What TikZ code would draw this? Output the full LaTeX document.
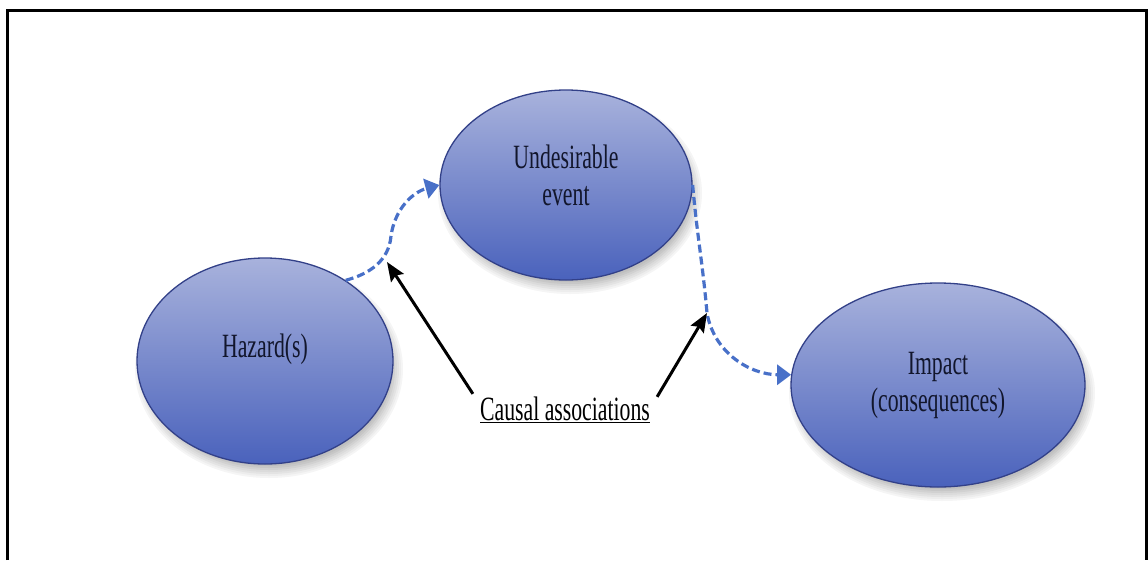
\documentclass[tikz,border=0pt]{standalone}
\usepackage{fontspec}
\setmainfont{Liberation Serif}[FakeStretch=0.64]
\usetikzlibrary{shapes.geometric,arrows.meta}

\definecolor{ellTop}{RGB}{168,178,220}
\definecolor{ellBot}{RGB}{74,98,188}
\definecolor{ellLine}{RGB}{50,64,136}
\definecolor{linkBlue}{RGB}{72,112,200}
\definecolor{inkNavy}{RGB}{18,22,44}

% soft shadow for an ellipse: centre coordinate, x radius, y radius
% (rings of solid grey, from the outer, palest one inwards)
\newcommand\softshade[3]{%
  \foreach \k in {12,10,...,0}{%
    \pgfmathtruncatemacro\shadepct{4+(12-\k)*1.8}%
    \fill[black!\shadepct!white] ([shift={(4,8)}]#1)
      ellipse [x radius=#2+\k-6, y radius=#3+\k-6];}}

\newcommand\up[1]{\raisebox{10pt}[\height][\depth]{#1}}

\begin{document}
\begin{tikzpicture}[x=1pt,y=-1pt,
  bubble/.style={ellipse, draw=ellLine, line width=1.3pt,
    top color=ellTop, bottom color=ellBot, inner sep=0pt,
    align=center, text=inkNavy, font=\fontsize{34}{37}\selectfont},
  link/.style={linkBlue, line width=3.2pt, dash pattern=on 8pt off 4pt,
    -{Triangle[length=14pt,width=20pt]}},
  pointer/.style={black, line width=3pt,
    -{Stealth[length=19pt,width=15pt,inset=3pt]}},
  caption/.style={text=black, font=\fontsize{34}{37}\selectfont, inner sep=4pt}]

\useasboundingbox (0,0) rectangle (1148,560);

% open frame (its bottom edge lies below the page)
\draw[line width=3pt] (7,560) -- (7,10.7) -- (1146.5,10.7) -- (1146.5,560);

% centres of the three stages, with their shadows
\coordinate (hazc) at (265,361);
\coordinate (undc) at (566,185);
\coordinate (impc) at (938,385);
\softshade{hazc}{128}{103}
\softshade{undc}{126}{95}
\softshade{impc}{147}{102}

% the three stages
\node[bubble, minimum width=256pt, minimum height=206pt] (haz) at (hazc)
  {\raisebox{12pt}[\height][\depth]{Hazard(s)}};
\node[bubble, minimum width=252pt, minimum height=190pt] (und) at (undc)
  {\up{Undesirable}\\\up{event}};
\node[bubble, minimum width=294pt, minimum height=204pt] (imp) at (impc)
  {Impact\\(consequences)};

% causal links between the stages
\coordinate (k1) at (387,262);
\coordinate (k2) at (707,313);
\draw[link] (haz.45) to[out=15,in=-95] (391,236) to[out=82,in=195] (und.west);
\draw[link] (und.east) to[out=-85,in=95] (k2) to[out=-80,in=180] (imp.176);

% caption with its two pointers
\node[caption] (cause) at (565,410) {\underline{Causal associations}};
\draw[pointer] ([xshift=-3pt,yshift=-1pt]cause.north west) -- (k1);
\draw[pointer] ([xshift=3pt,yshift=-4pt]cause.north east) -- (k2);
\end{tikzpicture}
\end{document}
